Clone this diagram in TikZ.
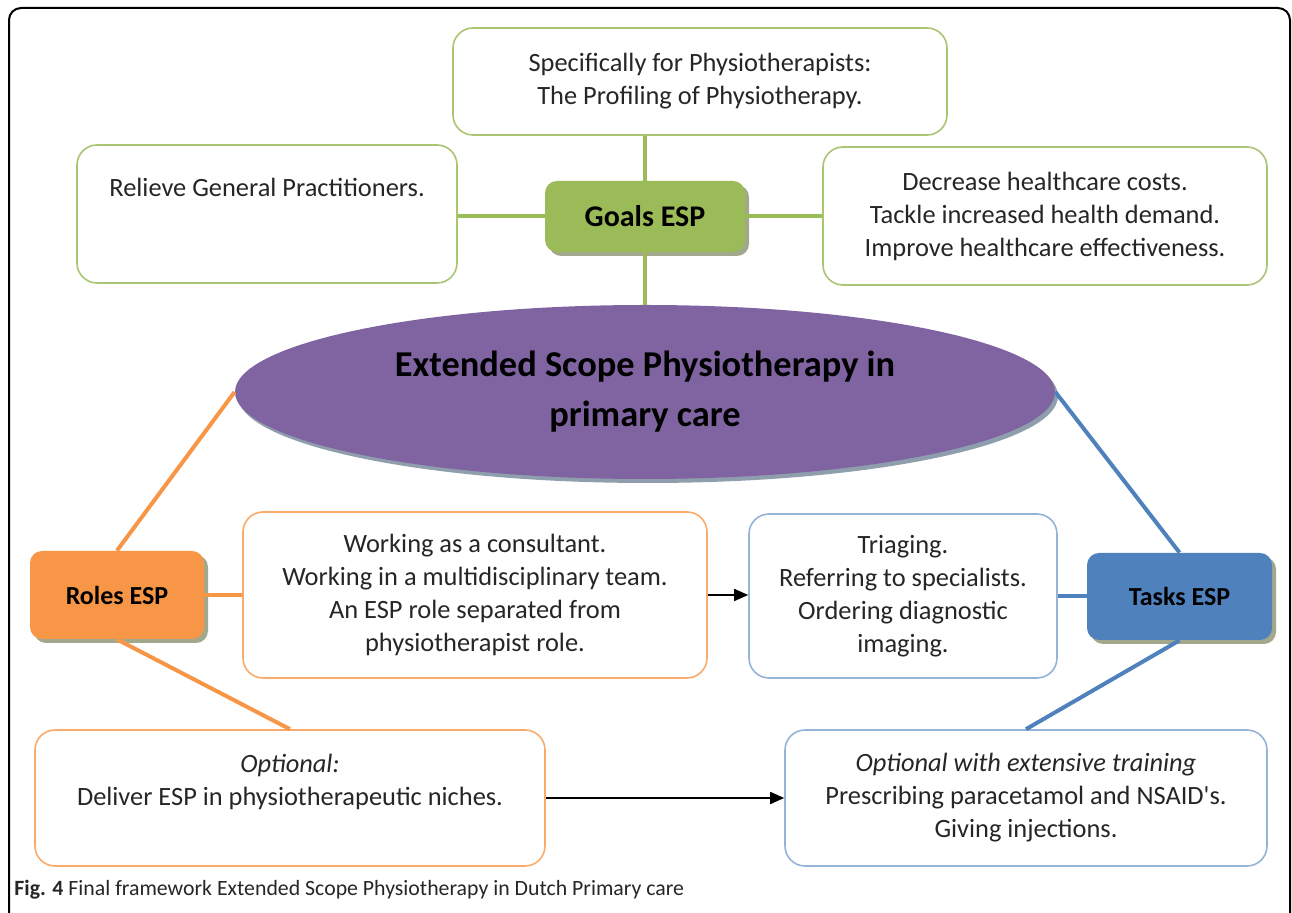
\documentclass[tikz,border=0pt]{standalone}
\usepackage{fontspec}
\setmainfont{Carlito}
\usepackage{xcolor}
\definecolor{goalGreen}{HTML}{9BBB59}
\definecolor{roleOrange}{HTML}{F79646}
\definecolor{taskBlue}{HTML}{4F81BD}
\definecolor{corePurple}{HTML}{8064A2}
\definecolor{boxShade}{HTML}{A3A78C}
\definecolor{coreShade}{HTML}{8E9EAD}
\definecolor{textDark}{HTML}{262626}
\usepackage{tikz}
\usetikzlibrary{shapes.geometric,arrows.meta,positioning,shadows}
\tikzset{%
  frameBox/.style={%
    rectangle,
    rounded corners=10pt,
    fill=white,
    line width=0.8pt,
    align=center,
    text=textDark,
    font=\fontsize{13.2}{16.5}\selectfont
  },
  goalBox/.style={frameBox, draw=goalGreen!85},
  roleBox/.style={frameBox, draw=roleOrange!80},
  taskBox/.style={frameBox, draw=taskBlue!60},
  hubNode/.style={%
    rectangle,
    rounded corners=6pt,
    align=center,
    font=\bfseries\fontsize{13}{15}\selectfont,
    drop shadow={shadow xshift=2pt,shadow yshift=-2pt,fill=boxShade,opacity=1}
  },
  coreEllipse/.style={%
    ellipse,
    fill=corePurple,
    align=center,
    inner sep=0pt,
    font=\bfseries\fontsize{18.2}{25}\selectfont,
    drop shadow={shadow xshift=1.5pt,shadow yshift=-2pt,fill=coreShade,opacity=1}
  },
  linkLine/.style={line width=2pt},
  arrowLine/.style={%
    -{Triangle[length=7pt,width=6pt]},
    line width=0.8pt,
    color=black
  }
}
\begin{document}
\begin{tikzpicture}[x=0.5pt,y=-0.5pt]
  \useasboundingbox (0,0) rectangle (1292,913);
  \draw[black, line width=1pt, rounded corners=6pt] (9,8) rectangle (1290,935);

  % goals
  \node[goalBox, minimum width=247pt, minimum height=53.5pt] (profBox) at (700,81.5)
    {Specifically for Physiotherapists:\\The Profiling of Physiotherapy.};
  \node[goalBox, minimum width=190pt, minimum height=69pt, text depth=27pt] (relieveBox) at (267,214)
    {Relieve General Practitioners.};
  \node[goalBox, minimum width=222pt, minimum height=69pt] (costBox) at (1045,216)
    {Decrease healthcare costs.\\Tackle increased health demand.\\Improve healthcare effectiveness.};
  \node[hubNode, fill=goalGreen, minimum width=100pt, minimum height=35.5pt,
    font=\bfseries\fontsize{15}{16}\selectfont] (goalsHub) at (645,216.5) {Goals ESP};

  % core
  \node[coreEllipse, minimum width=410pt, minimum height=87pt] (core) at (645,392)
    {Extended Scope Physiotherapy in\\primary care};

  % roles and tasks
  \node[hubNode, fill=roleOrange, minimum width=87pt, minimum height=44pt] (rolesHub) at (117,595) {Roles ESP};
  \node[hubNode, fill=taskBlue, minimum width=92.5pt, minimum height=43.5pt] (tasksHub) at (1179.5,596.5) {Tasks ESP};
  \node[roleBox, minimum width=232pt, minimum height=83pt] (dutyBox) at (475,595)
    {Working as a consultant.\\Working in a multidisciplinary team.\\An ESP role separated\ from\\physiotherapist role.};
  \node[taskBox, minimum width=154pt, minimum height=82pt] (triageBox) at (903,596)
    {Triaging.\\Referring to specialists.\\Ordering diagnostic\\imaging.};
  \node[roleBox, minimum width=255pt, minimum height=68pt, text depth=18pt] (nicheBox) at (290,798)
    {\itshape Optional:\\Deliver ESP in physiotherapeutic niches.};
  \node[taskBox, minimum width=241pt, minimum height=68pt] (trainBox) at (1026,798)
    {\itshape Optional with extensive training\\Prescribing paracetamol\ and NSAID\textquotesingle s.\\Giving injections.};

  % links
  \draw[linkLine, goalGreen] (goalsHub.north) -- (goalsHub.north |- profBox.south);
  \draw[linkLine, goalGreen] (goalsHub.west) -- (goalsHub.west -| relieveBox.east);
  \draw[linkLine, goalGreen] (goalsHub.east) -- (goalsHub.east -| costBox.west);
  \draw[linkLine, goalGreen] (goalsHub.south) -- (core.north);
  \draw[linkLine, roleOrange] (rolesHub.north) -- (core.west);
  \draw[linkLine, roleOrange] (rolesHub.east) -- (rolesHub.east -| dutyBox.west);
  \draw[linkLine, roleOrange] (rolesHub.south) -- (nicheBox.north);
  \draw[linkLine, taskBlue] (core.east) -- (tasksHub.north);
  \draw[linkLine, taskBlue] (tasksHub.west) -- (tasksHub.west -| triageBox.east);
  \draw[linkLine, taskBlue] (tasksHub.south) -- (trainBox.north);
  \draw[arrowLine] (dutyBox.east) -- (dutyBox.east -| triageBox.west);
  \draw[arrowLine] (nicheBox.east) -- (trainBox.west);

  % caption
  \node[anchor=base west, inner sep=0pt, text=textDark, font=\fontsize{10.9}{12}\selectfont] (caption) at (14,896)
    {\textbf{Fig. 4} Final framework Extended Scope Physiotherapy in Dutch Primary care};
\end{tikzpicture}
\end{document}
